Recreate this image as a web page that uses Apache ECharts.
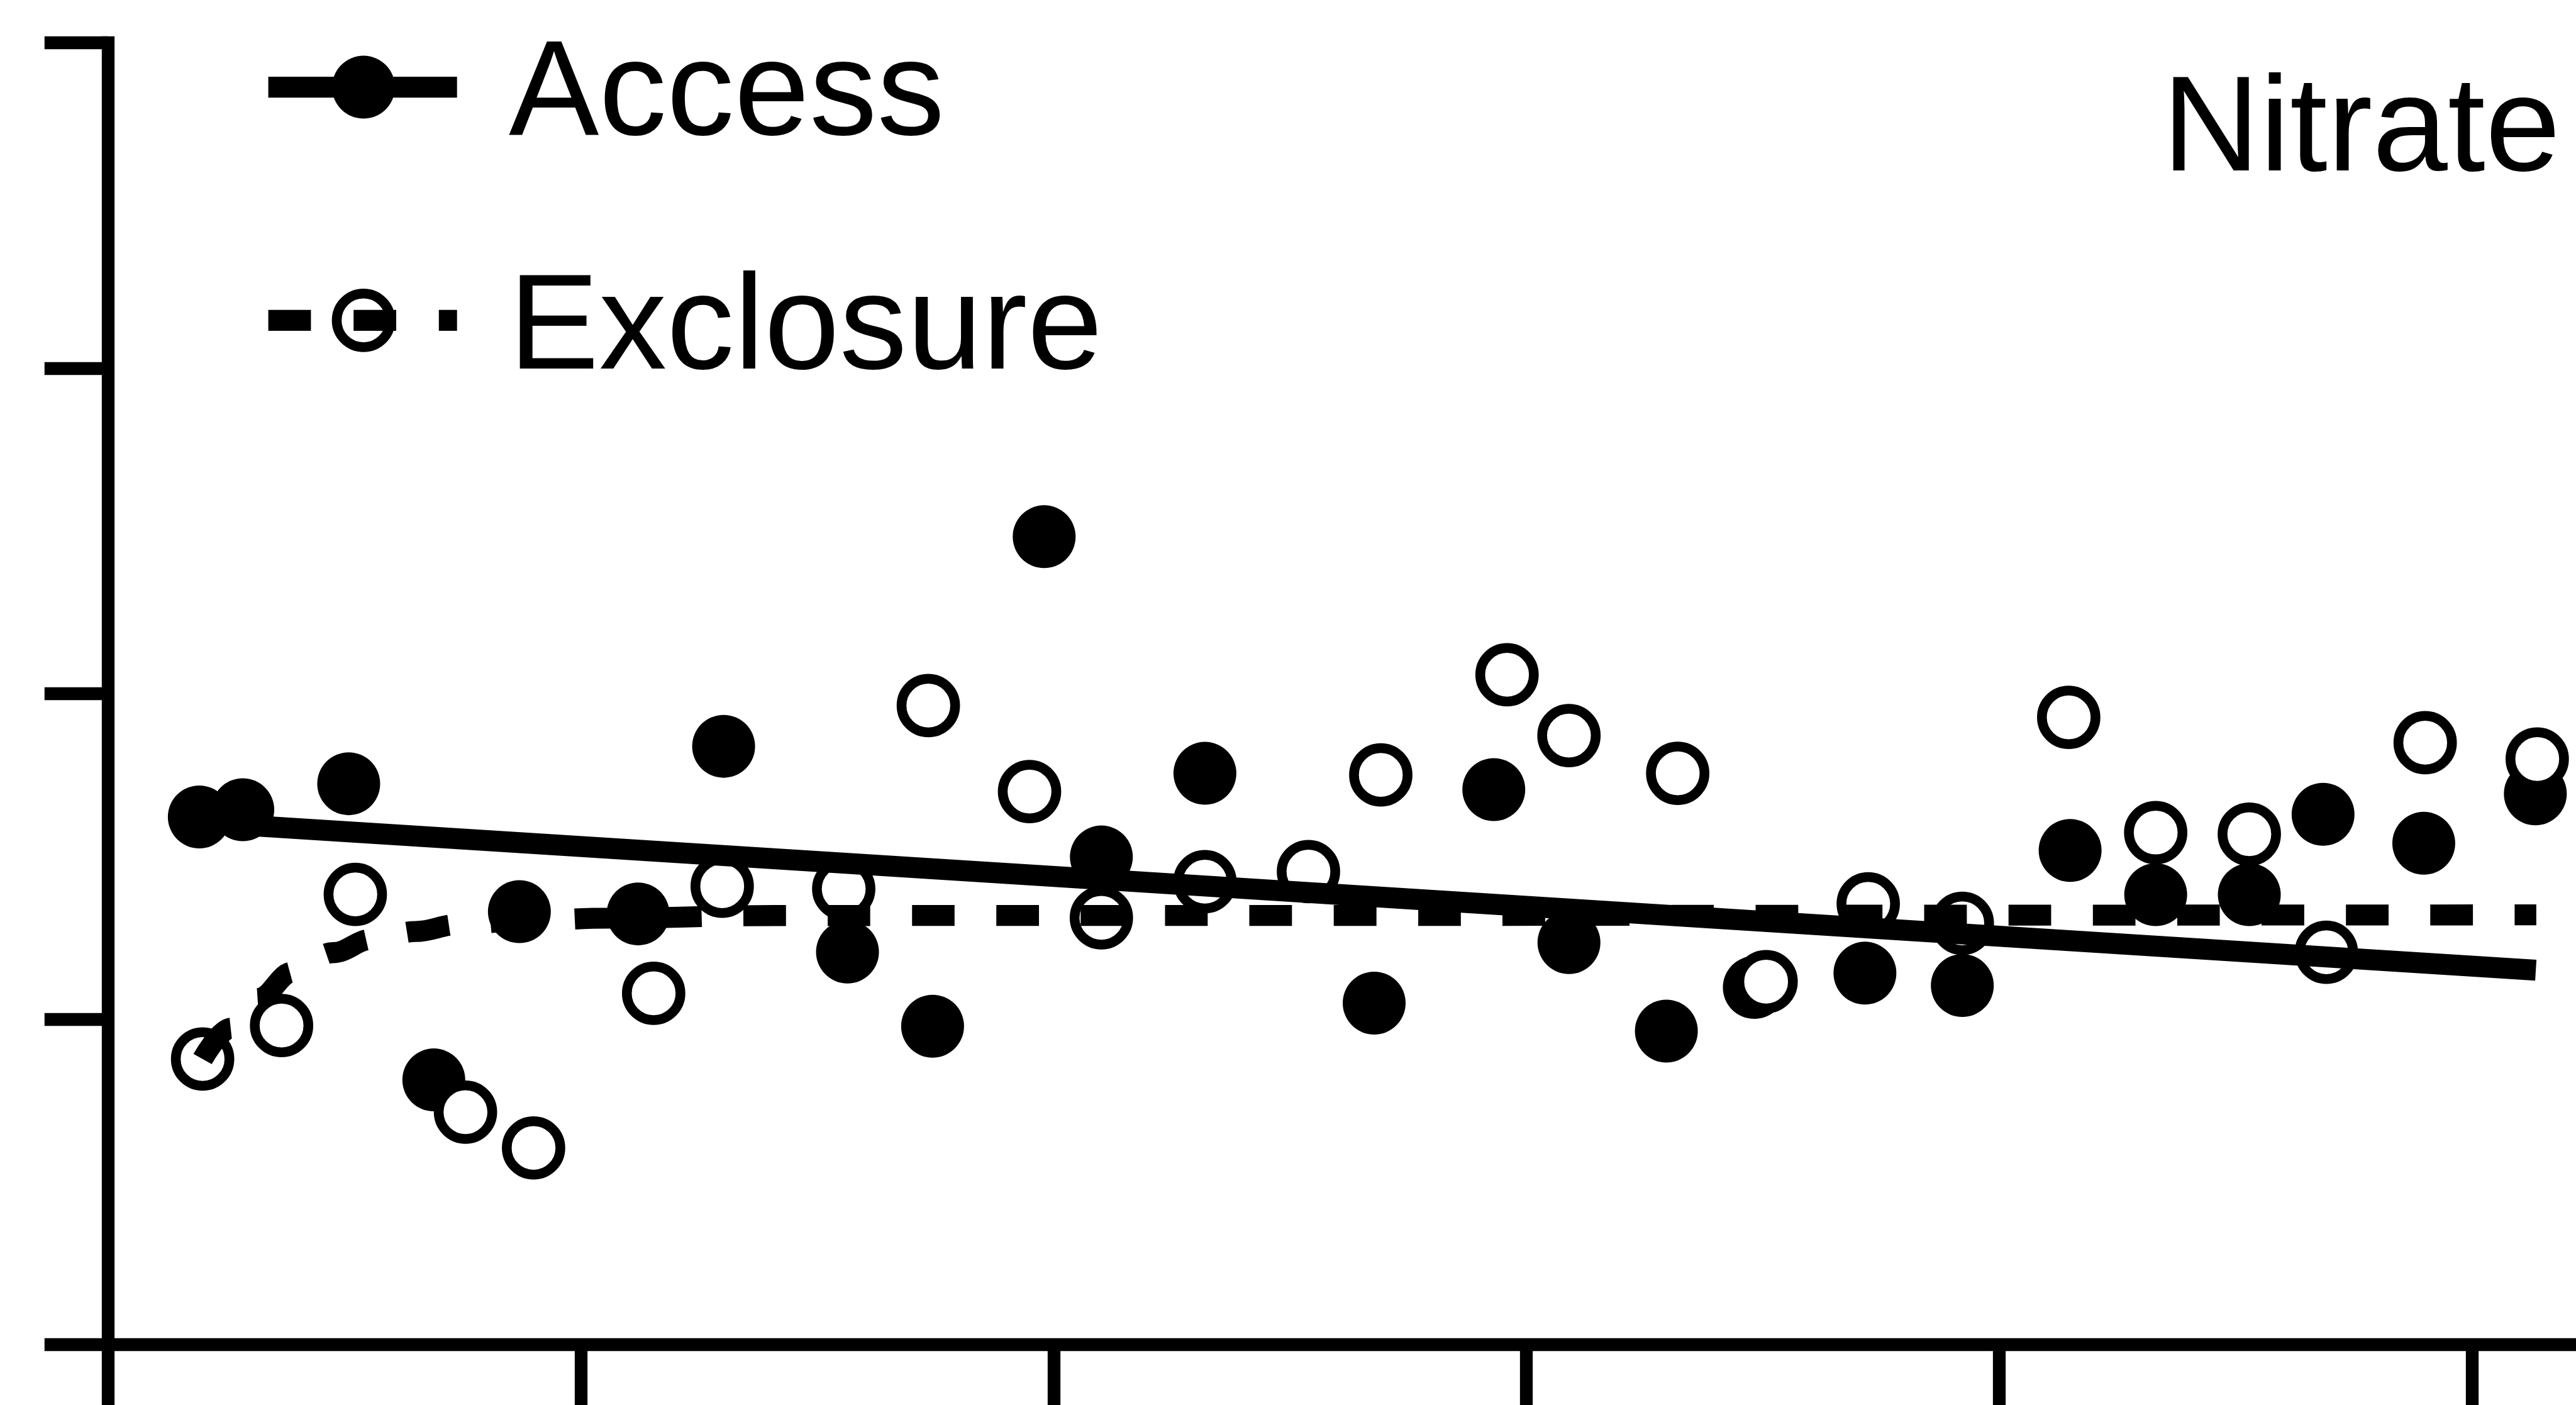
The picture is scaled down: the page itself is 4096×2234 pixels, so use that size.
<!DOCTYPE html>
<html>
<head>
<meta charset="utf-8">
<script src="https://cdn.jsdelivr.net/npm/echarts@6/dist/echarts.min.js"></script>
<style>
  html, body { margin: 0; padding: 0; background: #fff; }
  #chart { width: 4096px; height: 2234px; }
</style>
</head>
<body>
<div id="chart"></div>
<script>
// Nitrate over the sampling period: plots with grazing access vs. exclosures
const panelTitle = 'Nitrate';
const seriesNames = ['Access', 'Exclosure'];
const xTickValues = [0, 1, 2, 3, 4, 5];
const yTickValues = [0, 1, 2, 3, 4];

const accessX = [0.193, 0.285, 0.509, 0.689, 0.870, 1.121, 1.302, 1.564, 1.744, 1.980, 2.101, 2.320, 2.678,
                 2.931, 3.090, 3.296, 3.482, 3.716, 3.922, 4.150, 4.331, 4.529, 4.685, 4.898, 5.134];
const accessY = [1.621, 1.643, 1.723, 0.813, 1.330, 1.323, 1.838, 1.206, 0.978, 2.482, 1.498, 1.755, 1.049,
                 1.705, 1.235, 0.963, 1.097, 1.141, 1.103, 1.518, 1.382, 1.382, 1.629, 1.540, 1.692];

const exclosureX = [0.200, 0.367, 0.523, 0.756, 0.900, 1.154, 1.299, 1.556, 1.735, 1.949, 2.101, 2.320, 2.539,
                    2.692, 2.959, 3.090, 3.320, 3.507, 3.723, 3.922, 4.147, 4.331, 4.529, 4.692, 4.901, 5.138];
const exclosureY = [0.877, 0.980, 1.383, 0.714, 0.604, 1.079, 1.408, 1.400, 1.963, 1.699, 1.311, 1.422, 1.453,
                    1.750, 2.058, 1.871, 1.755, 1.115, 1.354, 1.294, 1.927, 1.573, 1.568, 1.205, 1.849, 1.799];

// Fitted trends
const accessFitX = [0.193, 5.135];
const accessFitY = [1.604, 1.150];
const exclosureFitX = [0.200, 0.261, 0.317, 0.391, 0.475, 0.559, 0.651, 0.740, 0.866, 1.059, 1.407, 5.136];
const exclosureFitY = [0.877, 0.972, 1.063, 1.144, 1.204, 1.245, 1.269, 1.290, 1.301, 1.310, 1.318, 1.320];

const pairs = (xs, ys) => xs.map((x, i) => [x, ys[i]]);

const INK = '#000';
const AXIS_W = 20.3;
const TREND_W = 33.3;
const DASH = [67.8, 66.3];
const FILLED_SIZE = 100;
const OPEN_SIZE = 85.2;
const OPEN_BORDER = 15.5;
const FONT = '215px "Liberation Sans", Arial, sans-serif';

const chart = echarts.init(document.getElementById('chart'), null, { renderer: 'canvas' });

const axisCommon = {
  type: 'value',
  axisLine: { show: true, onZero: false, lineStyle: { color: INK, width: AXIS_W, cap: 'square' } },
  axisLabel: { show: false },
  splitLine: { show: false }
};

chart.setOption({
  animation: false,
  backgroundColor: '#ffffff',
  grid: { left: 171.8, top: 67.8, width: 3924.4, height: 2070, containLabel: false },
  xAxis: Object.assign({}, axisCommon, {
    min: 0, max: 5.22, interval: 1,
    axisTick: { show: true, inside: false, length: 110, customValues: xTickValues,
                lineStyle: { color: INK, width: AXIS_W } }
  }),
  yAxis: Object.assign({}, axisCommon, {
    min: 0, max: 4, interval: 1,
    axisTick: { show: true, inside: false, length: 101, customValues: yTickValues,
                lineStyle: { color: INK, width: AXIS_W } }
  }),
  series: [
    {
      name: seriesNames[0], type: 'scatter', z: 2, clip: false,
      symbol: 'circle', symbolSize: FILLED_SIZE,
      itemStyle: { color: INK, opacity: 1 },
      data: pairs(accessX, accessY)
    },
    {
      name: seriesNames[1], type: 'scatter', z: 3, clip: false,
      symbol: 'circle', symbolSize: OPEN_SIZE,
      itemStyle: { color: '#ffffff', borderColor: INK, borderWidth: OPEN_BORDER, opacity: 1 },
      data: pairs(exclosureX, exclosureY)
    },
    {
      name: seriesNames[0] + ' trend', type: 'line', z: 4, clip: false,
      symbol: 'none', silent: true,
      lineStyle: { color: INK, width: TREND_W, cap: 'butt' },
      data: pairs(accessFitX, accessFitY)
    },
    {
      name: seriesNames[1] + ' trend', type: 'line', z: 4, clip: false,
      symbol: 'none', silent: true, smooth: 0.4, smoothMonotone: 'x',
      lineStyle: { color: INK, width: TREND_W, type: DASH, cap: 'butt' },
      data: pairs(exclosureFitX, exclosureFitY)
    }
  ],
  graphic: [
    // legend: Access
    { type: 'line', z: 10, shape: { x1: 426.6, y1: 138.6, x2: 726.7, y2: 138.6 },
      style: { stroke: INK, lineWidth: TREND_W, lineCap: 'butt' } },
    { type: 'circle', z: 10, shape: { cx: 578, cy: 138.6, r: FILLED_SIZE / 2 },
      style: { fill: INK } },
    { type: 'text', z: 10, x: 809, y: 155,
      style: { text: seriesNames[0], font: FONT, fill: INK, align: 'left', verticalAlign: 'middle' } },
    // legend: Exclosure
    { type: 'circle', z: 10, shape: { cx: 578, cy: 509.4, r: OPEN_SIZE / 2 },
      style: { fill: '#ffffff', stroke: INK, lineWidth: OPEN_BORDER } },
    { type: 'line', z: 11, shape: { x1: 426.6, y1: 509.4, x2: 726.7, y2: 509.4 },
      style: { stroke: INK, lineWidth: TREND_W, lineCap: 'butt', lineDash: [67.8, 67.8] } },
    { type: 'text', z: 10, x: 809, y: 526.5,
      style: { text: seriesNames[1], font: FONT, fill: INK, align: 'left', verticalAlign: 'middle' } },
    // panel title
    { type: 'text', z: 10, x: 3438, y: 212,
      style: { text: panelTitle, font: FONT, fill: INK, align: 'left', verticalAlign: 'middle' } }
  ]
});
</script>
</body>
</html>
